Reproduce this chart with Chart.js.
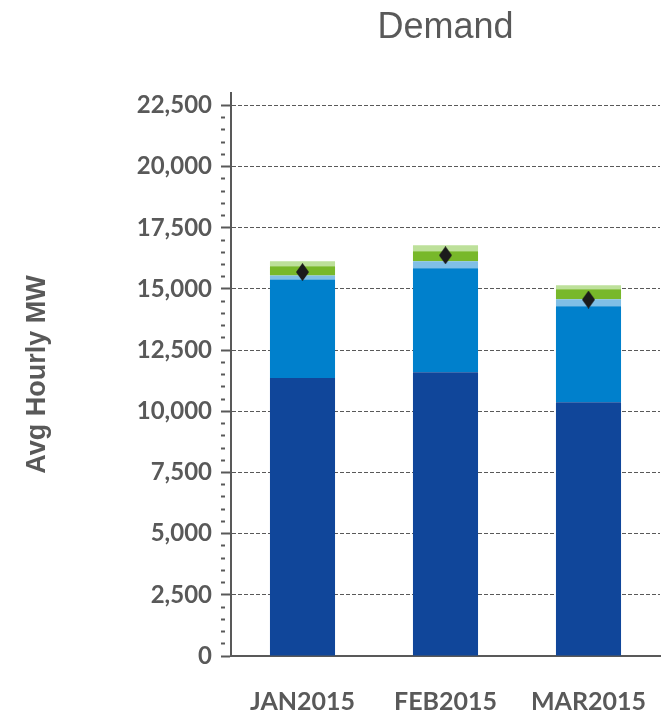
<!DOCTYPE html>
<html>
<head>
<meta charset="utf-8">
<script src="https://cdn.jsdelivr.net/npm/chart.js@4/dist/chart.umd.min.js"></script>
<style>
  html, body { margin: 0; padding: 0; background: #fff; }
  #wrap { width: 664px; height: 714px; }
</style>
</head>
<body>
<div id="wrap"><canvas id="demandChart" width="664" height="714"></canvas></div>
<script>
// months on the x axis
let months = ['JAN2015', 'FEB2015', 'MAR2015']

// stacked segments, bottom to top (avg hourly MW)
let darkBlue   = [11360, 11600, 10370]
let midBlue    = [4030, 4245, 3920]
let lightBlue  = [165, 285, 290]
let green      = [370, 410, 405]
let lightGreen = [205, 245, 165]

// diamond markers
let markerValues = [15690, 16375, 14565]

// y axis
let yMin = 0, yMax = 23000, majorStep = 2500, minorStep = 500

const GREY = '#595959'

// tall diamond used as the marker image
function diamond(w, h) {
	let c = document.createElement('canvas')
	c.width = w; c.height = h
	let g = c.getContext('2d')
	g.fillStyle = '#1b1b1b'
	g.beginPath()
	g.moveTo(w/2, 0); g.lineTo(w, h/2); g.lineTo(w/2, h); g.lineTo(0, h/2)
	g.closePath(); g.fill()
	return c
}

function isMajor(v) { return v % majorStep === 0 }

let segs = [
	['Dark blue', darkBlue, '#10469a'],
	['Blue', midBlue, '#0080cc'],
	['Light blue', lightBlue, '#80bfe6'],
	['Green', green, '#78b82a'],
	['Light green', lightGreen, '#bde09a'],
]

let datasets = segs.map(s => ({
	type: 'bar',
	label: s[0],
	data: s[1],
	backgroundColor: s[2],
	borderWidth: 0,
	categoryPercentage: 1,
	barPercentage: 0.455,
	order: 1,
}))

datasets.push({
	type: 'line',
	label: 'Demand',
	data: markerValues,
	showLine: false,
	pointStyle: diamond(13, 18),
	pointRadius: 8,
	order: 0,
})

new Chart(document.getElementById('demandChart'), {
	data: { labels: months, datasets: datasets },
	options: {
		responsive: false,
		animation: false,
		layout: { autoPadding: false, padding: { left: 0, right: 4, top: 0, bottom: 0 } },
		plugins: {
			legend: { display: false },
			tooltip: { enabled: false },
			title: {
				display: true,
				text: 'Demand',
				fullSize: false,
				color: GREY,
				font: { family: 'Liberation Sans', size: 36, weight: 'normal' },
				padding: { top: 6, bottom: 44 },
			},
		},
		scales: {
			x: {
				stacked: true,
				// no visible ticks; tickLength only pushes the labels down
				grid: { display: false, drawTicks: true, tickLength: 26 },
				border: { display: true, color: GREY, width: 2 },
				ticks: {
					color: GREY,
					padding: 5,
					font: { family: 'Lato', size: 25, weight: 'bold' },
				},
				afterFit: (scale) => { scale.height = 58 },
			},
			y: {
				stacked: true,
				min: yMin,
				max: yMax,
				afterFit: (scale) => { scale.width = 231 },
				ticks: {
					stepSize: minorStep,
					autoSkip: false,
					padding: 9,
					color: GREY,
					font: { family: 'Lato', size: 24, weight: 'bold' },
					callback: (v) => isMajor(v) ? v.toLocaleString('en-US') : '',
				},
				grid: {
					// dashed lines only at the major steps, short ticks at the minor ones
					color: (ctx) => isMajor(ctx.tick.value) ? GREY : 'rgba(0,0,0,0)',
					tickColor: (ctx) => ctx.tick.value > 22500 ? 'rgba(0,0,0,0)' : GREY,
					tickLength: 10,
					tickWidth: 2,
					tickBorderDash: (ctx) => isMajor(ctx.tick.value) ? [] : [4, 40],
					lineWidth: 1,
				},
				border: { display: true, color: GREY, width: 2, dash: [4, 2] },
				title: {
					display: true,
					text: 'Avg Hourly MW',
					color: GREY,
					font: { family: 'Liberation Sans', size: 27, weight: 'bold' },
					padding: { top: 21, bottom: 0 },
				},
			},
		},
	},
})
</script>
</body>
</html>
